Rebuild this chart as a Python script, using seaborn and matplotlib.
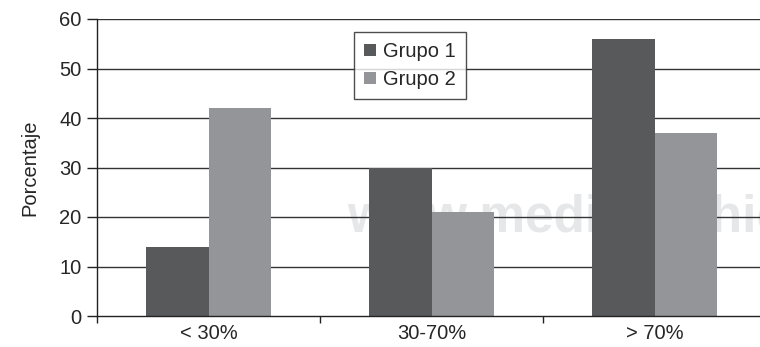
import matplotlib
matplotlib.use("Agg")
import matplotlib.pyplot as plt
import seaborn as sns
import pandas as pd

# Categories and percentages per group
categories = ["< 30%", "30-70%", "> 70%"]
grupo1 = [14, 30, 56]
grupo2 = [42, 21, 37]
groups = ["Grupo 1", "Grupo 2"]
yticks = [0, 10, 20, 30, 40, 50, 60]

df = pd.DataFrame({
    "cat": categories * 2,
    "grupo": [groups[0]] * 3 + [groups[1]] * 3,
    "valor": grupo1 + grupo2,
})

sns.set_style("white")
plt.rcParams["font.family"] = ["Liberation Sans", "DejaVu Sans"]

fig = plt.figure(figsize=(7.6, 3.47), dpi=100)
ax = fig.add_axes([97 / 760, 31 / 347, 669 / 760, 297 / 347])

palette = {"Grupo 1": "#58595b", "Grupo 2": "#939598"}
sns.barplot(data=df, x="cat", y="valor", hue="grupo", order=categories,
            hue_order=groups, palette=palette, width=0.56, gap=0,
            saturation=1, edgecolor="none", linewidth=0, ax=ax, zorder=2)

# faint watermark behind the bars and grid
ax.text(347 / 760, (347 - 232) / 347, "www.medigraphic",
        transform=fig.transFigure, clip_on=False,
        fontsize=37, fontweight="bold", color="#e6e7e8", zorder=0,
        ha="left", va="baseline")

ax.set_xlim(-0.5, 2.5)
ax.set_ylim(0, 60)
ax.set_yticks(yticks)
ax.set_yticklabels([str(v) for v in yticks], fontsize=14.5)
for y in yticks[1:]:
    ax.axhline(y, color="#333333", lw=1.0, zorder=1)

ax.set_xticks([0, 1, 2])
ax.set_xticklabels(categories, fontsize=14.5)
ax.set_xticks([-0.5, 0.5, 1.5, 2.5], minor=True)
ax.tick_params(axis="x", which="major", length=0, pad=6)
ax.tick_params(axis="x", which="minor", length=5, width=1, color="#222222",
               direction="out", bottom=True)
ax.tick_params(axis="y", length=7.2, width=1, color="#222222",
               direction="out", left=True, pad=4)

ax.set_xlabel("")
ax.set_ylabel("Porcentaje", fontsize=14.5, labelpad=14)

for s in ["top", "right"]:
    ax.spines[s].set_visible(False)
for s in ["left", "bottom"]:
    ax.spines[s].set_color("#222222")
    ax.spines[s].set_linewidth(1.0)

leg = ax.legend(loc="upper left", bbox_to_anchor=(0.384, 0.956),
                borderaxespad=0, fontsize=14.5, frameon=True, fancybox=False,
                handlelength=0.6, handleheight=0.6, handletextpad=0.35,
                borderpad=0.5, labelspacing=0.45, title=None)
leg.get_frame().set_edgecolor("#222222")
leg.get_frame().set_linewidth(1.0)
leg.set_zorder(5)

fig.savefig("out.png", dpi=100)
